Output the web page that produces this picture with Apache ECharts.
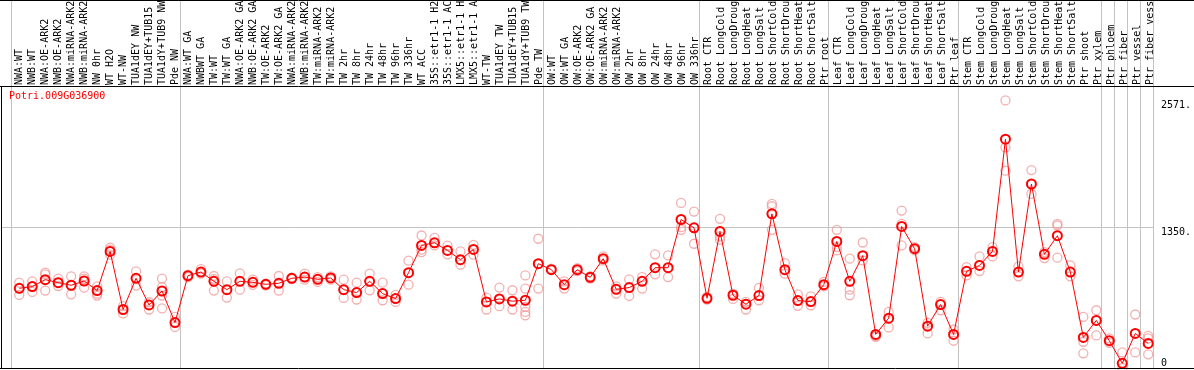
<!DOCTYPE html>
<html>
<head>
<meta charset="utf-8">
<script src="https://cdn.jsdelivr.net/npm/echarts@6/dist/echarts.min.js"></script>
<style>
html,body{margin:0;padding:0;background:#fff;}
#chart{width:1194px;height:370px;}
</style>
</head>
<body>
<div id="chart"></div>
<script>
const geneId = 'Potri.009G036900';

const categories = [
  'NWA:WT','NWB:WT','NWA:OE-ARK2','NWB:OE-ARK2','NWA:miRNA-ARK2','NWB:miRNA-ARK2','NW 0hr','WT H2O','WT-NW','TUA1dEY NW','TUA1dEY+TUB15 NW','TUA1dY+TUB9 NW','Pde NW',
  'NWA:WT GA','NWBWT GA','TW:WT','TW:WT GA','NWA:OE-ARK2 GA','NWB:OE-ARK2 GA','TW:OE-ARK2','TW:OE-ARK2 GA','NWA:miRNA-ARK2 GA','NWB:miRNA-ARK2 GA','TW:miRNA-ARK2','TW:miRNA-ARK2 GA',
  'TW 2hr','TW 8hr','TW 24hr','TW 48hr','TW 96hr','TW 336hr','WT ACC','35S::etr1-1 H2O','35S::etr1-1 ACC','LMX5::etr1-1 H2O','LMX5::etr1-1 ACC','WT-TW','TUA1dEY TW','TUA1dEY+TUB15 TW','TUA1dY+TUB9 TW','Pde TW',
  'OW:WT','OW:WT GA','OW:OE-ARK2','OW:OE-ARK2 GA','OW:miRNA-ARK2','OW:miRNA-ARK2 GA','OW 2hr','OW 8hr','OW 24hr','OW 48hr','OW 96hr','OW 336hr',
  'Root CTR','Root LongCold','Root LongDrought','Root LongHeat','Root LongSalt','Root ShortCold','Root ShortDrought','Root ShortHeat','Root ShortSalt','Ptr root',
  'Leaf CTR','Leaf LongCold','Leaf LongDrought','Leaf LongHeat','Leaf LongSalt','Leaf ShortCold','Leaf ShortDrought','Leaf ShortHeat','Leaf ShortSalt','Ptr leaf',
  'Stem CTR','Stem LongCold','Stem LongDrought','Stem LongHeat','Stem LongSalt','Stem ShortCold','Stem ShortDrought','Stem ShortHeat','Stem ShortSalt','Ptr shoot','Ptr xylem',
  'Ptr phloem','Ptr fiber','Ptr vessel','Ptr fiber vessel'
];

const means = [
  766,782,849,820,795,836,744,1120,562,862,606,740,437,
  887,922,833,753,833,823,804,814,862,874,852,865,753,725,833,715,667,916,1178,1203,1130,1041,1139,635,664,642,651,1002,
  945,801,945,871,1050,756,773,833,964,964,1427,1347,
  670,1312,699,613,696,1481,945,648,638,801,
  1216,833,1079,323,479,1360,1146,402,610,323,
  929,986,1120,2199,922,1768,1092,1271,922,294,457,
  262,45,332,236
];

const replicates = [
  [820,766,702],[833,782,731],[916,900,744],[859,820,788],[881,795,708],[881,859,772],[785,715,696],[1156,1137,1089],[594,524],[929,792],[632,562,606],[859,778,696,572],[491,395],
  [897,874],[951,906],[884,855,744],[833,677],[909,753],[849,798],[810,795],[884,744],[868,855],[906,849],[874,827],[881,849],[849,673],[820,658],[906,747],[820,651],[702,635],[1031,801],[1273,1114,1137],[1251,1178],[1175,1092],[1120,993],[1184,1089],[677,562],[773,594],[747,562],[890,763,587,539,507],[1242,763],
  [955],[833,763],[960,930],[881,860],[1072,1034],[785,715],[852,692],[874,763],[1092,900],[1082,874],[1586,1353,1328],[1503,1194],
  [683,658],[1433,1264,1232],[715,664],[635,562],[769,651],[1577,1554,1328],[1008,906],[708,597],[689,603],[827,785],
  [1328,1162,1130],[1050,753,699],[1206,1034],[310,300],[539,390],[1513,1385,1178],[1162,1130],[434,332],[635,555],[370,262],
  [970,890],[1072,932],[1162,1072],[2571,2119,1896],[977,881],[1902,1673],[1114,1056],[1385,1369,1060],[986,881],[491,252,141],[555,313],
  [284,242],[150,0],[514,150],[309,284,131]
];

const groupStarts = [0,13,41,53,63,73,84,85,86,87,88];
const yLabelValues = [1350, 2571];
const yZeroLabel = [0];
const gridValue = 1350;

const FONT = 'DejaVu Sans Mono';
const GRAY = '#c3c3c3';

const meanData = means.map((v, i) => [i, v]);
const repData = [];
replicates.forEach((arr, i) => arr.forEach(v => repData.push([i, v])));

const sepLines = groupStarts.map(g => ({ xAxis: g - 0.62 }));

const chart = echarts.init(document.getElementById('chart'), null, { renderer: 'canvas' });
chart.setOption({
  animation: false,
  backgroundColor: '#fff',
  title: {
    text: geneId, left: 9, top: 91, padding: 0,
    textStyle: { color: '#ff0000', fontSize: 10, fontFamily: FONT, fontWeight: 'normal' }
  },
  grid: [
    { left: 1, right: 38, top: 0, bottom: 2 },
    { left: 12.5, right: 37.5, top: 86, height: 1 }
  ],
  xAxis: [
    { type: 'value', gridIndex: 0, min: -1.408, max: 87.438, show: false },
    {
      type: 'category', gridIndex: 1, position: 'top', data: categories, boundaryGap: true,
      axisLine: { show: false }, axisTick: { show: false }, splitLine: { show: false },
      axisLabel: { interval: 0, rotate: 90, margin: 2, fontSize: 10, fontFamily: FONT, color: '#000' }
    }
  ],
  yAxis: [
    {
      type: 'value', gridIndex: 0, min: 0, max: 3536, position: 'right',
      axisLine: { show: false }, axisTick: { show: false }, splitLine: { show: false },
      axisLabel: { customValues: yLabelValues, formatter: v => v + '.', verticalAlign: 'top', margin: 7, fontSize: 10, fontFamily: FONT, color: '#000' }
    },
    {
      type: 'value', gridIndex: 0, min: 0, max: 3536, position: 'right',
      axisLine: { show: false }, axisTick: { show: false }, splitLine: { show: false },
      axisLabel: { customValues: yZeroLabel, formatter: v => String(v), verticalAlign: 'bottom', margin: 7, fontSize: 10, fontFamily: FONT, color: '#000' }
    },
    { type: 'value', gridIndex: 1, show: false }
  ],
  series: [
    {
      type: 'scatter', xAxisIndex: 0, yAxisIndex: 0, data: repData, silent: true, z: 2,
      symbol: 'circle', symbolSize: 9,
      itemStyle: { color: 'rgba(0,0,0,0)', borderColor: '#f09c9c', borderWidth: 1.3 }
    },
    {
      type: 'line', xAxisIndex: 0, yAxisIndex: 0, data: meanData, silent: true, z: 3,
      symbol: 'circle', symbolSize: 9, showAllSymbol: true,
      lineStyle: { color: '#ff0000', width: 1 },
      itemStyle: { color: 'rgba(0,0,0,0)', borderColor: '#ff0000', borderWidth: 2 },
      markLine: {
        silent: true, symbol: 'none', label: { show: false }, z: 1,
        lineStyle: { color: GRAY, width: 1, type: 'solid' },
        data: [{ yAxis: gridValue }].concat(sepLines)
      }
    }
  ],
  graphic: [
    { type: 'line', shape: { x1: 0, y1: 0.5, x2: 1194, y2: 0.5 }, style: { stroke: '#000', lineWidth: 1 }, z: 10 },
    { type: 'line', shape: { x1: 0, y1: 86.5, x2: 1194, y2: 86.5 }, style: { stroke: '#000', lineWidth: 1 }, z: 10 },
    { type: 'line', shape: { x1: 0, y1: 368.5, x2: 1194, y2: 368.5 }, style: { stroke: '#000', lineWidth: 1 }, z: 10 },
    { type: 'line', shape: { x1: 1.5, y1: 86, x2: 1.5, y2: 369 }, style: { stroke: '#000', lineWidth: 1 }, z: 10 }
  ]
});
</script>
</body>
</html>
